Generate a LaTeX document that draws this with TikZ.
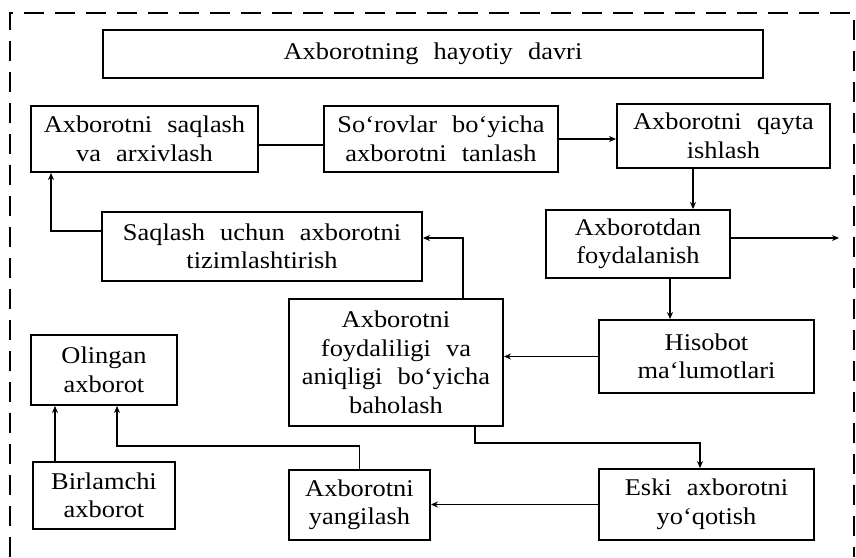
\documentclass[tikz,border=0pt]{standalone}
\usepackage{fontspec}
\setmainfont{Liberation Serif}[FakeStretch=1.1,WordSpace=2.3]
\usetikzlibrary{arrows.meta}
\tikzset{
  box/.style={draw,line width=1.9pt,inner sep=0pt,align=center,font=\fontsize{24}{28.5}\selectfont},
  conn/.style={line width=1.8pt},
  arr/.style={conn,-{Stealth[length=7pt,width=6pt]}},
  frame/.style={line width=2.2pt,dash pattern=on 20pt off 11pt}
}
\begin{document}
\begin{tikzpicture}[x=1pt,y=-1pt]
\useasboundingbox (0,0) rectangle (856,557);
\fill[white] (0,0) rectangle (856,557);
% dashed frame
\draw[frame] (10,557) -- (10,13) -- (854,13) -- (854,557);
% nodes
\node[box,minimum width=660pt,minimum height=48pt] (title) at (433,54) {Axborotning hayotiy davri};
\node[box,minimum width=227pt,minimum height=66pt] (b1) at (144.5,139) {Axborotni saqlash\\va arxivlash};
\node[box,minimum width=234pt,minimum height=66pt] (b2) at (441,139) {So‘rovlar bo‘yicha\\axborotni tanlash};
\node[box,minimum width=213pt,minimum height=64pt] (b3) at (723.5,136) {Axborotni qayta\\ishlash};
\node[box,minimum width=184pt,minimum height=68pt] (b4) at (638,244) {Axborotdan\\foydalanish};
\node[box,minimum width=320pt,minimum height=69pt] (b5) at (262,246.5) {Saqlash uchun axborotni\\tizimlashtirish};
\node[box,minimum width=214pt,minimum height=127pt] (b6) at (396,362.5) {Axborotni\\foydaliligi va\\aniqligi bo‘yicha\\baholash};
\node[box,minimum width=215pt,minimum height=73pt] (b7) at (706.5,356.5) {Hisobot\\ma‘lumotlari};
\node[box,minimum width=215pt,minimum height=71pt] (b8) at (706.5,504.5) {Eski axborotni\\yo‘qotish};
\node[box,minimum width=141pt,minimum height=70pt] (b9) at (359.5,505) {Axborotni\\yangilash};
\node[box,minimum width=146pt,minimum height=70pt] (b10) at (104,370) {Olingan\\axborot};
\node[box,minimum width=142pt,minimum height=67pt] (b11) at (104,495.5) {Birlamchi\\axborot};
\coordinate (out) at (839,238);
% connectors
\draw[conn] ([yshift=-6pt]b1.east) -- ([yshift=-6pt]b2.west);
\draw[arr] (b2.east) -- (b2.east -| b3.west);
\draw[arr] ([xshift=-30.5pt]b3.south) -- ([xshift=-30.5pt]b3.south |- b4.north);
\draw[arr] (b4.east |- out) -- (out);
\draw[arr] ([xshift=32pt]b4.south) -- ([xshift=32pt]b4.south |- b7.north);
\draw[arr] (b7.west) -- (b7.west -| b6.east);
\draw[arr] ([xshift=67pt]b6.north) |- ([yshift=8.5pt]b5.east);
\draw[arr] ([yshift=15.5pt]b5.west) -| ([xshift=-93.5pt]b1.south);
\draw[arr] ([xshift=79pt]b6.south) -- ++(0,16) -| ([xshift=-6.5pt]b8.north);
\draw[arr] (b8.west) -- (b8.west -| b9.east);
\draw[arr] (b9.north) -- ++(0,-23) -| ([xshift=13pt]b10.south);
\draw[arr] ([xshift=-49pt]b11.north) -- ([xshift=-49pt]b10.south);
\end{tikzpicture}
\end{document}
